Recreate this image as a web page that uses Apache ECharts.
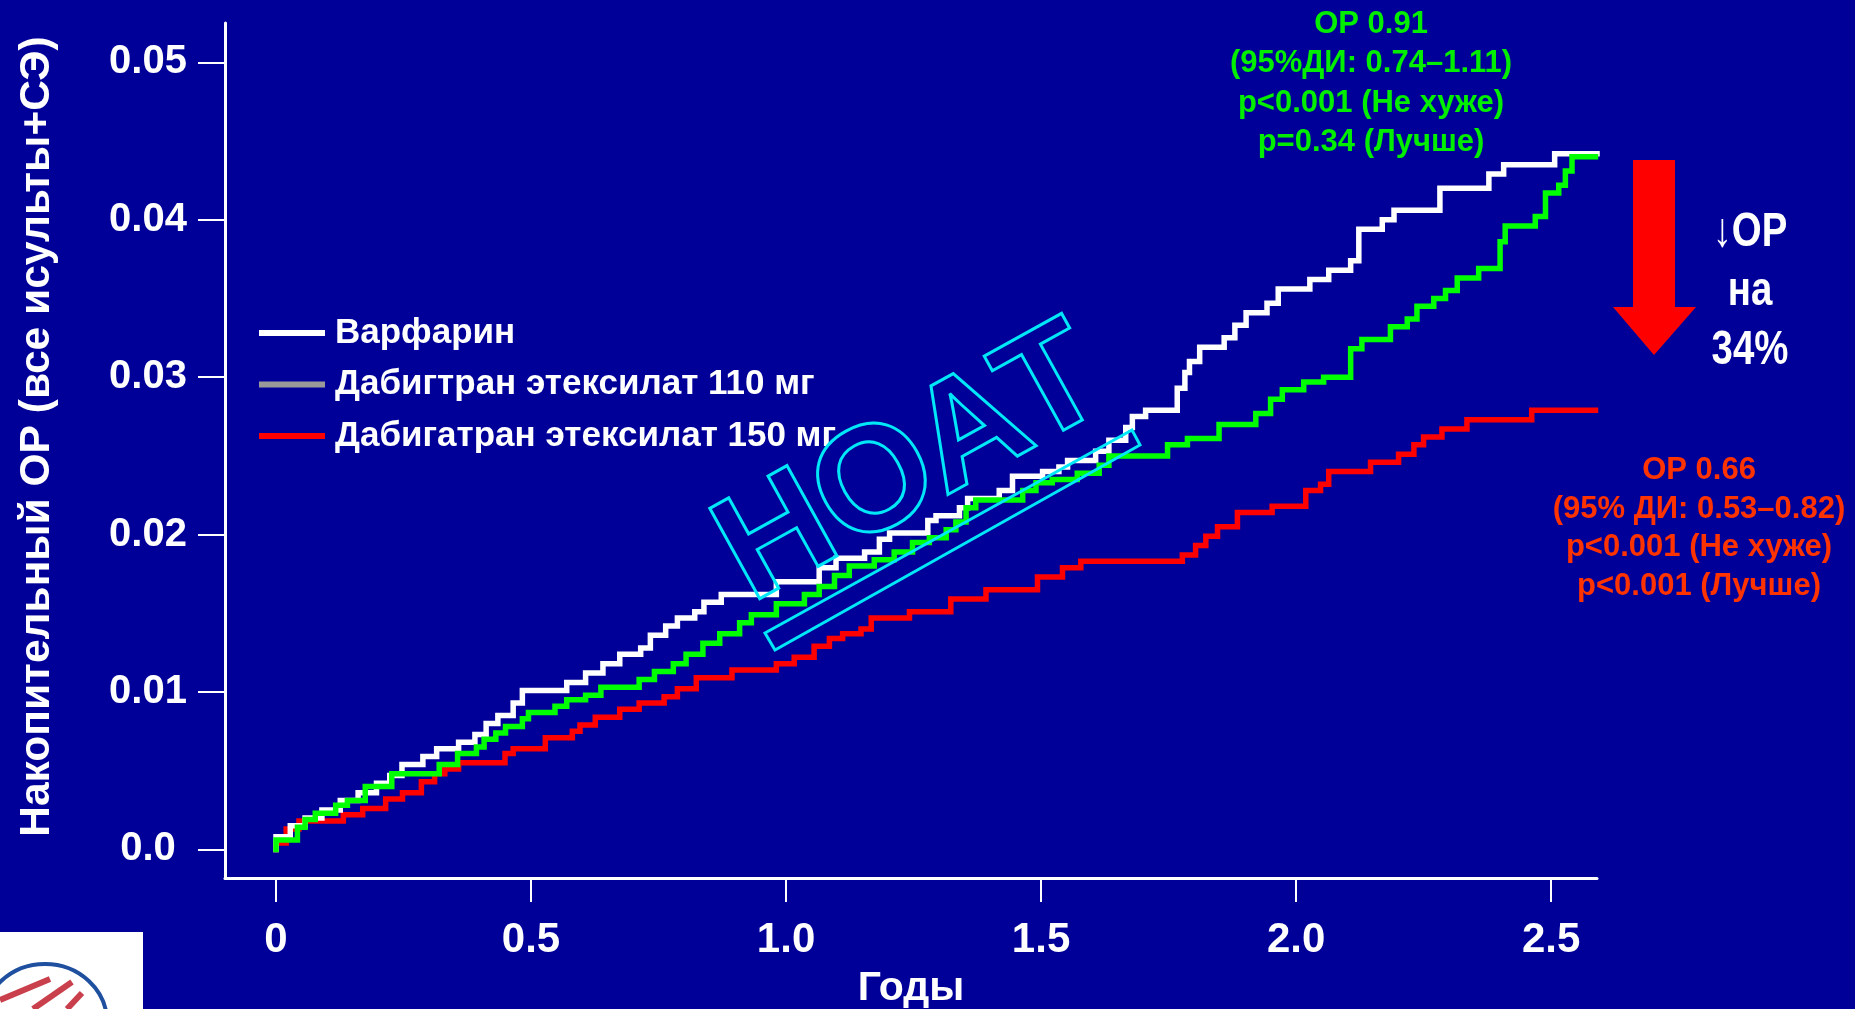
<!DOCTYPE html>
<html><head><meta charset="utf-8">
<script src="https://cdn.jsdelivr.net/npm/echarts@6/dist/echarts.min.js"></script>
<style>html,body{margin:0;padding:0;background:#000099;}#c{width:1855px;height:1009px;}</style>
</head><body><div id="c"></div>
<script>
// ---- data ----
const xTickValues = [0, 0.5, 1, 1.5, 2, 2.5];
const xTickLabels = ['0', '0.5', '1.0', '1.5', '2.0', '2.5'];
const yTickValues = [0, 0.01, 0.02, 0.03, 0.04, 0.05];
const yTickLabels = ['0.0', '0.01', '0.02', '0.03', '0.04', '0.05'];
const seriesNames = ['Варфарин', 'Дабигтран этексилат 110 мг', 'Дабигатран этексилат 150 мг'];

const warfarinT = [0, 0, 0.028, 0.057, 0.09, 0.126, 0.161, 0.197, 0.223, 0.247, 0.288, 0.315, 0.358, 0.39, 0.412, 0.435, 0.465, 0.483, 0.57, 0.607, 0.641, 0.674, 0.715, 0.734, 0.764, 0.787, 0.821, 0.839, 0.873, 0.981, 1.065, 1.098, 1.154, 1.183, 1.203, 1.278, 1.294, 1.34, 1.356, 1.418, 1.444, 1.503, 1.535, 1.552, 1.607, 1.633, 1.666, 1.679, 1.705, 1.767, 1.782, 1.791, 1.811, 1.859, 1.88, 1.902, 1.943, 1.965, 2.027, 2.064, 2.107, 2.123, 2.169, 2.192, 2.282, 2.378, 2.407, 2.507, 2.59];
const warfarinV = [0, 0.0008, 0.0015, 0.002, 0.0025, 0.0031, 0.0036, 0.0042, 0.0047, 0.0054, 0.0059, 0.0064, 0.0068, 0.0073, 0.008, 0.0085, 0.0093, 0.0101, 0.0106, 0.0112, 0.0118, 0.0124, 0.0128, 0.0136, 0.0142, 0.0147, 0.0151, 0.0157, 0.0162, 0.017, 0.0179, 0.0185, 0.0189, 0.0197, 0.0201, 0.0209, 0.0212, 0.0217, 0.0223, 0.0228, 0.0237, 0.024, 0.0243, 0.0247, 0.0253, 0.026, 0.0268, 0.0275, 0.0279, 0.0293, 0.0303, 0.031, 0.0319, 0.0325, 0.0333, 0.0341, 0.0347, 0.0356, 0.0362, 0.0368, 0.0374, 0.0394, 0.04, 0.0406, 0.042, 0.0429, 0.0435, 0.0442, 0.0442];

const dabi110T = [0, 0, 0.042, 0.057, 0.077, 0.117, 0.14, 0.175, 0.227, 0.32, 0.356, 0.393, 0.408, 0.431, 0.45, 0.483, 0.495, 0.547, 0.57, 0.607, 0.637, 0.712, 0.742, 0.779, 0.804, 0.837, 0.87, 0.909, 0.932, 0.981, 1.036, 1.065, 1.095, 1.124, 1.173, 1.212, 1.248, 1.281, 1.314, 1.333, 1.353, 1.372, 1.464, 1.49, 1.522, 1.571, 1.614, 1.633, 1.748, 1.787, 1.849, 1.921, 1.95, 1.973, 2.015, 2.054, 2.107, 2.129, 2.185, 2.218, 2.237, 2.27, 2.293, 2.316, 2.358, 2.4, 2.41, 2.469, 2.489, 2.515, 2.528, 2.541, 2.587];
const dabi110V = [0, 0.0006, 0.0014, 0.0019, 0.0023, 0.0028, 0.0031, 0.004, 0.0048, 0.0054, 0.0061, 0.0065, 0.007, 0.0074, 0.0078, 0.0083, 0.0087, 0.0091, 0.0095, 0.0098, 0.0103, 0.0108, 0.0113, 0.0118, 0.0124, 0.0131, 0.0137, 0.0144, 0.0149, 0.0156, 0.0162, 0.0167, 0.0174, 0.018, 0.0184, 0.0189, 0.0195, 0.0198, 0.0203, 0.0208, 0.0217, 0.0222, 0.0228, 0.0233, 0.0235, 0.0239, 0.0244, 0.025, 0.0257, 0.0261, 0.027, 0.0277, 0.0286, 0.0292, 0.0297, 0.03, 0.0318, 0.0324, 0.0332, 0.0337, 0.0345, 0.035, 0.0355, 0.0363, 0.0369, 0.0386, 0.0396, 0.0402, 0.0417, 0.0422, 0.0431, 0.044, 0.044];

const dabi150T = [0, 0, 0.02, 0.045, 0.132, 0.17, 0.215, 0.248, 0.285, 0.311, 0.331, 0.358, 0.449, 0.465, 0.528, 0.581, 0.596, 0.626, 0.674, 0.712, 0.761, 0.787, 0.824, 0.894, 0.981, 1.016, 1.055, 1.085, 1.111, 1.147, 1.167, 1.242, 1.323, 1.392, 1.493, 1.542, 1.578, 1.777, 1.803, 1.823, 1.846, 1.885, 1.953, 2.019, 2.048, 2.064, 2.146, 2.201, 2.231, 2.25, 2.286, 2.335, 2.462, 2.587];
const dabi150V = [0, 0.0004, 0.0013, 0.0018, 0.0022, 0.0026, 0.0032, 0.0036, 0.0043, 0.0048, 0.0051, 0.0055, 0.0061, 0.0064, 0.0071, 0.0075, 0.0079, 0.0084, 0.0089, 0.0093, 0.0097, 0.0102, 0.0109, 0.0114, 0.0118, 0.0122, 0.0129, 0.0134, 0.0137, 0.014, 0.0147, 0.0151, 0.0159, 0.0165, 0.0173, 0.0179, 0.0183, 0.0187, 0.0193, 0.0199, 0.0205, 0.0214, 0.0218, 0.0228, 0.0232, 0.024, 0.0246, 0.0251, 0.0257, 0.0262, 0.0267, 0.0273, 0.0279, 0.0279];

const yTitle = 'Накопительный ОР (все исульты+СЭ)';
const xTitle = 'Годы';
const greenNote = ['ОР 0.91', '(95%ДИ: 0.74–1.11)', 'p<0.001 (Не хуже)', 'p=0.34 (Лучше)'];
const redNote = ['ОР 0.66', '(95% ДИ: 0.53–0.82)', 'p<0.001 (Не хуже)', 'p<0.001 (Лучше)'];
const rrNote = ['↓ОР', 'на', '34%'];
const stampText = 'НОАТ';

// ---- chart ----
const FONT = '"Liberation Sans", Arial, sans-serif';
const pairs = (T, V) => T.map((t, i) => [t, V[i]]);
const lookup = (vals, labels) => (v) => {
  for (let i = 0; i < vals.length; i++) if (Math.abs(vals[i] - v) < 1e-9) return labels[i];
  return '';
};

const chart = echarts.init(document.getElementById('c'), null, {renderer: 'canvas', width: 1855, height: 1009});

const option = {
  backgroundColor: '#000099',
  animation: false,
  grid: {left: 225, right: 258, top: 23, bottom: 131, containLabel: false, outerBoundsMode: 'none'},
  xAxis: {
    type: 'value', min: -0.1, max: 2.59,
    axisLine: {show: true, onZero: false, lineStyle: {color: '#ffffff', width: 3}},
    axisTick: {show: true, customValues: xTickValues, length: 24, inside: false, lineStyle: {color: '#ffffff', width: 2}},
    axisLabel: {show: true, customValues: xTickValues, formatter: lookup(xTickValues, xTickLabels), margin: 41,
      color: '#ffffff', fontFamily: FONT, fontWeight: 'bold', fontSize: 42},
    splitLine: {show: false},
    name: xTitle, nameLocation: 'middle', nameGap: 90,
    nameTextStyle: {color: '#ffffff', fontFamily: FONT, fontWeight: 'bold', fontSize: 41}
  },
  yAxis: {
    type: 'value', min: -0.001817, max: 0.0525,
    axisLine: {show: true, onZero: false, lineStyle: {color: '#ffffff', width: 3}},
    axisTick: {show: true, customValues: yTickValues, length: 27, inside: false, lineStyle: {color: '#ffffff', width: 2}},
    axisLabel: {show: true, customValues: yTickValues, formatter: lookup(yTickValues, yTickLabels), margin: 77, align: 'center',
      color: '#ffffff', fontFamily: FONT, fontWeight: 'bold', fontSize: 40},
    splitLine: {show: false}
  },
  legend: {
    orient: 'vertical', left: 259, top: 313, padding: 0, itemGap: 11.5,
    itemWidth: 66, itemHeight: 6, icon: 'rect', selectedMode: false,
    textStyle: {color: '#ffffff', fontFamily: FONT, fontWeight: 'bold', fontSize: 35, lineHeight: 40, padding: [0, 0, 0, 5]},
    data: [
      {name: seriesNames[0], itemStyle: {color: '#ffffff'}},
      {name: seriesNames[1], itemStyle: {color: '#999999'}},
      {name: seriesNames[2], itemStyle: {color: '#ff0000'}}
    ]
  },
  series: [
    {name: seriesNames[2], type: 'line', step: 'end', showSymbol: false, silent: true, z: 2,
      data: pairs(dabi150T, dabi150V), color: '#ff0000', lineStyle: {color: '#ff0000', width: 5.5, join: 'miter', cap: 'square'}},
    {name: seriesNames[0], type: 'line', step: 'end', showSymbol: false, silent: true, z: 3,
      data: pairs(warfarinT, warfarinV), color: '#ffffff', lineStyle: {color: '#ffffff', width: 5.5, join: 'miter', cap: 'square'}},
    {name: seriesNames[1], type: 'line', step: 'end', showSymbol: false, silent: true, z: 4,
      data: pairs(dabi110T, dabi110V), color: '#00ff00', lineStyle: {color: '#00ff00', width: 5.5, join: 'miter', cap: 'square'}}
  ],
  graphic: [
    {type: 'text', x: 37.5, y: 436.5, rotation: Math.PI / 2, z: 100,
      style: {text: yTitle, fill: '#ffffff', font: 'bold 42.5px ' + FONT, align: 'center', verticalAlign: 'middle', textAlign: 'center', textVerticalAlign: 'middle'}},
    {type: 'text', x: 1371, y: 4.5, z: 100,
      style: {text: greenNote.join('\n'), fill: '#00ee00', font: 'bold 31px ' + FONT, lineHeight: 39.4, align: 'center', verticalAlign: 'top', textAlign: 'center', textVerticalAlign: 'top'}},
    {type: 'text', x: 1699, y: 451.6, z: 100,
      style: {text: redNote.join('\n'), fill: '#ff3300', font: 'bold 31px ' + FONT, lineHeight: 38.5, align: 'center', verticalAlign: 'top', textAlign: 'center', textVerticalAlign: 'top'}},
    {type: 'text', x: 1750, y: 203.5, z: 100, scaleX: 0.8,
      style: {text: rrNote.join('\n'), fill: '#ffffff', font: 'bold 48px ' + FONT, lineHeight: 59, align: 'center', verticalAlign: 'top', textAlign: 'center', textVerticalAlign: 'top'}},
    {type: 'polygon', z: 100,
      shape: {points: [[1633, 160], [1675, 160], [1675, 307], [1696, 307], [1654, 355], [1613, 307], [1633, 307]]},
      style: {fill: '#ff0000'}},
    {type: 'text', x: 912, y: 467, rotation: 0.506, z: 100,
      style: {text: stampText, fill: 'rgba(0,0,0,0)', stroke: '#00e8f8', lineWidth: 3, font: 'bold 150px ' + FONT, align: 'center', verticalAlign: 'middle', textAlign: 'center', textVerticalAlign: 'middle'}},
    {type: 'polygon', z: 100,
      shape: {points: [[765, 633], [1132, 430], [1140, 445], [775, 650]]},
      style: {fill: 'rgba(0,0,0,0)', stroke: '#00e8f8', lineWidth: 3}},
    {type: 'rect', z: 100, shape: {x: 0, y: 932, width: 143, height: 77}, style: {fill: '#ffffff'}},
    {type: 'ellipse', z: 101, shape: {cx: 45, cy: 1022, rx: 62, ry: 58}, style: {fill: 'rgba(0,0,0,0)', stroke: '#1f4f9f', lineWidth: 4}},
    {type: 'line', z: 101, shape: {x1: 0, y1: 1000, x2: 50, y2: 979}, style: {stroke: '#c9404c', lineWidth: 6}},
    {type: 'line', z: 101, shape: {x1: 33, y1: 1009, x2: 72, y2: 982}, style: {stroke: '#c9404c', lineWidth: 6}},
    {type: 'line', z: 101, shape: {x1: 67, y1: 1009, x2: 82, y2: 993}, style: {stroke: '#c9404c', lineWidth: 6}}
  ]
};
chart.setOption(option);
</script>
</body></html>
